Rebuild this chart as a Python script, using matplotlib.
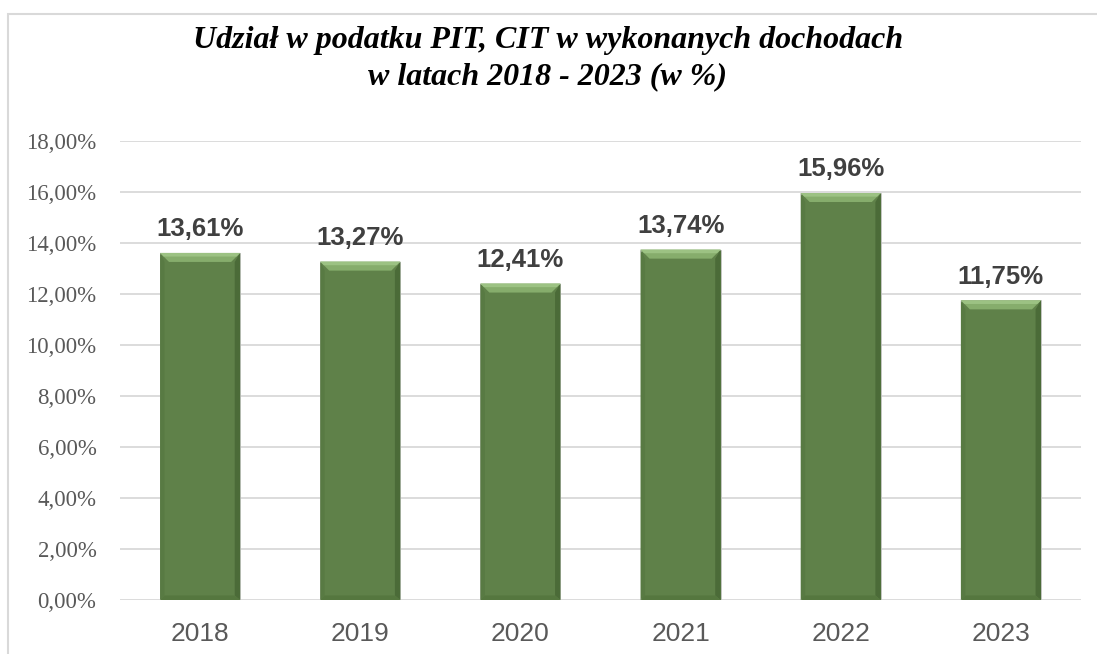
import matplotlib
matplotlib.use("Agg")
import matplotlib.pyplot as plt
from matplotlib.patches import Polygon, Rectangle
from matplotlib.ticker import FuncFormatter

# data
years = ["2018", "2019", "2020", "2021", "2022", "2023"]
shares = [13.61, 13.27, 12.41, 13.74, 15.96, 11.75]
yticks = [0, 2, 4, 6, 8, 10, 12, 14, 16, 18]

W, H = 1097, 654
fig = plt.figure(figsize=(W / 100, H / 100), dpi=100)
ax = fig.add_axes([120 / W, (H - 600) / H, (1081 - 120) / W, (600 - 141) / H])

# outer frame of the chart (only left and top visible in the crop)
fig.patches.append(Rectangle((7.5 / W, -0.1), 1.2, (H - 14) / H + 0.1,
                             transform=fig.transFigure, fill=False,
                             edgecolor="#D9D9D9", linewidth=1.5))

x = range(len(years))
bars = ax.bar(x, shares, width=0.5, color="#5F8149", edgecolor="#C8C8C8",
              linewidth=0.6, zorder=3)

ax.set_xlim(-0.5, len(years) - 0.5)
ax.set_ylim(0, 18)

# bevel effect on each bar, size in pixels converted to data units
px_x = (len(years)) / (1081 - 120)
px_y = 18 / (600 - 141)
bev = 9
for b in bars:
    x0, x1 = b.get_x(), b.get_x() + b.get_width()
    h = b.get_height()
    dx, dy = bev * px_x, bev * px_y
    top = Polygon([(x0, h), (x1, h), (x1 - dx, h - dy), (x0 + dx, h - dy)],
                  closed=True, facecolor="#86AD6C", edgecolor="none", zorder=4)
    top2 = Polygon([(x0, h), (x1, h), (x1 - dx * 0.4, h - dy * 0.4), (x0 + dx * 0.4, h - dy * 0.4)],
                   closed=True, facecolor="#9CC283", edgecolor="none", zorder=4)
    left = Polygon([(x0, 0), (x0, h), (x0 + dx * 0.5, h - dy), (x0 + dx * 0.5, dy * 0.5)],
                   closed=True, facecolor="#587A43", edgecolor="none", zorder=4)
    right = Polygon([(x1, 0), (x1, h), (x1 - dx * 0.6, h - dy), (x1 - dx * 0.6, dy * 0.5)],
                    closed=True, facecolor="#4B6B38", edgecolor="none", zorder=4)
    bottom = Polygon([(x0, 0), (x1, 0), (x1 - dx * 0.6, dy * 0.5), (x0 + dx * 0.5, dy * 0.5)],
                     closed=True, facecolor="#55773F", edgecolor="none", zorder=4)
    for p in (top, top2, left, right, bottom):
        ax.add_patch(p)

for i, v in enumerate(shares):
    ax.annotate(f"{v:.2f}%".replace(".", ","), (i, v), xytext=(0, 12),
                textcoords="offset points", ha="center", va="baseline",
                fontsize=18.5, fontweight="bold", color="#404040",
                family="Liberation Sans")

ax.set_yticks(yticks)
ax.yaxis.set_major_formatter(FuncFormatter(lambda v, p: f"{v:.2f}%".replace(".", ",")))
ax.set_xticks(list(x))
ax.set_xticklabels(years)
ax.tick_params(axis="y", length=0, pad=17, labelsize=16.5, labelcolor="#595959")
ax.tick_params(axis="x", length=0, pad=16, labelsize=19, labelcolor="#595959")
for lab in ax.get_yticklabels():
    lab.set_family("Liberation Serif")
for lab in ax.get_xticklabels():
    lab.set_family("Liberation Sans")

ax.grid(axis="y", color="#D9D9D9", linewidth=1.3, zorder=0)
ax.set_axisbelow(True)
for s in ax.spines.values():
    s.set_visible(False)

fig.text(548 / W, 1 - 59 / H, "Udział w podatku PIT, CIT w wykonanych dochodach\nw latach 2018 - 2023 (w %)",
         ha="center", va="center", fontsize=23, fontweight="bold", style="italic",
         family="Liberation Serif", linespacing=1.32)

fig.savefig("out.png", dpi=100)
